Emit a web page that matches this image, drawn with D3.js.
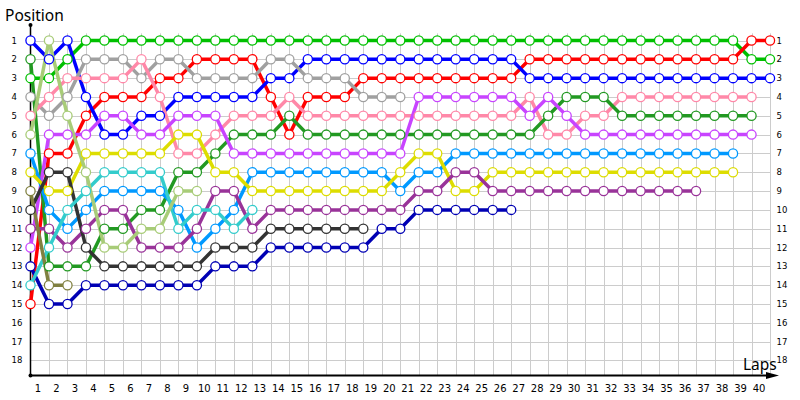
<!DOCTYPE html>
<html>
<head>
<meta charset="utf-8">
<script src="https://cdn.jsdelivr.net/npm/d3@7/dist/d3.min.js"></script>
<style>
body { margin: 0; background: #fff; }
</style>
</head>
<body>
<div id="chart-area"></div>
<script>
const WIDTH = 800
const HEIGHT = 400

// tick labels
const lapLabels = [1, 2, 3, 4, 5, 6, 7, 8, 9, 10, 11, 12, 13, 14, 15, 16, 17, 18, 19, 20,
	21, 22, 23, 24, 25, 26, 27, 28, 29, 30, 31, 32, 33, 34, 35, 36, 37, 38, 39, 40]
const positionLabels = [1, 2, 3, 4, 5, 6, 7, 8, 9, 10, 11, 12, 13, 14, 15, 16, 17, 18]

// position of each car per lap, index = lap (0 = grid)
const green = [3, 3, 2, 1, 1, 1, 1, 1, 1, 1, 1, 1, 1, 1, 1, 1, 1, 1, 1, 1,
	1, 1, 1, 1, 1, 1, 1, 1, 1, 1, 1, 1, 1, 1, 1, 1, 1, 1, 1, 2, 2]
const red = [15, 7, 7, 5, 4, 4, 4, 3, 3, 2, 2, 2, 2, 4, 6, 4, 4, 4, 3, 3,
	3, 3, 3, 3, 3, 3, 3, 2, 2, 2, 2, 2, 2, 2, 2, 2, 2, 2, 2, 1, 1]
const blue = [1, 2, 1, 4, 6, 6, 5, 5, 4, 4, 4, 4, 4, 3, 3, 2, 2, 2, 2, 2,
	2, 2, 2, 2, 2, 2, 2, 3, 3, 3, 3, 3, 3, 3, 3, 3, 3, 3, 3, 3, 3]
const gray = [4, 5, 4, 2, 2, 2, 3, 2, 2, 3, 3, 3, 3, 2, 2, 3, 3, 3, 4, 4, 4]
const pink = [5, 4, 3, 3, 3, 3, 2, 4, 7, 7, 6, 5, 5, 5, 4, 5, 5, 5, 5, 5,
	5, 5, 5, 5, 5, 5, 5, 4, 6, 6, 5, 5, 4, 4, 4, 4, 4, 4, 4, 4]
const darkGreen = [2, 13, 13, 13, 11, 11, 10, 10, 8, 8, 7, 6, 6, 6, 5, 6, 6, 6, 6, 6,
	6, 6, 6, 6, 6, 6, 6, 6, 5, 4, 4, 4, 5, 5, 5, 5, 5, 5, 5, 5]
const violet = [12, 6, 6, 6, 5, 5, 6, 6, 5, 5, 5, 7, 7, 7, 7, 7, 7, 7, 7, 7,
	7, 4, 4, 4, 4, 4, 4, 5, 4, 5, 6, 6, 6, 6, 6, 6, 6, 6, 6, 6]
const lightBlue = [7, 10, 11, 10, 9, 9, 9, 9, 10, 12, 11, 10, 8, 8, 8, 8, 8, 8, 8, 8,
	9, 8, 8, 7, 7, 7, 7, 7, 7, 7, 7, 7, 7, 7, 7, 7, 7, 7, 7]
const yellow = [8, 9, 9, 7, 7, 7, 7, 7, 6, 6, 8, 8, 9, 9, 9, 9, 9, 9, 9, 9,
	8, 7, 7, 9, 9, 8, 8, 8, 8, 8, 8, 8, 8, 8, 8, 8, 8, 8, 8]
const purple = [11, 11, 12, 11, 10, 10, 12, 12, 12, 11, 9, 9, 11, 10, 10, 10, 10, 10, 10, 10,
	10, 9, 9, 8, 8, 9, 9, 9, 9, 9, 9, 9, 9, 9, 9, 9, 9]
const darkGray = [10, 8, 8, 12, 13, 13, 13, 13, 13, 13, 12, 12, 12, 11, 11, 11, 11, 11, 11]
const navy = [13, 15, 15, 14, 14, 14, 14, 14, 14, 14, 13, 13, 13, 12, 12, 12, 12, 12, 12, 11,
	11, 10, 10, 10, 10, 10, 10]
const cyan = [14, 12, 10, 9, 8, 8, 8, 8, 11, 10, 10, 11, 10]
const lightOlive = [6, 1, 5, 8, 12, 12, 11, 11, 9, 9]
const olive = [9, 14, 14]

const drivers = [
	{ color: "#00c000", pos: green },
	{ color: "#ff0000", pos: red },
	{ color: "#0000ff", pos: blue },
	{ color: "#a0a0a0", pos: gray },
	{ color: "#ff88a8", pos: pink },
	{ color: "#229922", pos: darkGreen },
	{ color: "#c844ff", pos: violet },
	{ color: "#0099ff", pos: lightBlue },
	{ color: "#dddd00", pos: yellow },
	{ color: "#993399", pos: purple },
	{ color: "#333333", pos: darkGray },
	{ color: "#0000b4", pos: navy },
	{ color: "#33cccc", pos: cyan },
	{ color: "#a8cc78", pos: lightOlive },
	{ color: "#808040", pos: olive }
]

const svg = d3.select("#chart-area").append("svg")
	.attr("width", WIDTH)
	.attr("height", HEIGHT)

// scales
const x = d3.scaleLinear().domain([0, 40]).range([30.5, 770])
const y = d3.scaleLinear().domain([1, 15]).range([40.5, 304])
const AXIS_Y = 375.5

// grid
const grid = svg.append("g")
	.attr("stroke", "#cccccc")
	.attr("stroke-width", 1)
grid.selectAll(".v")
	.data(lapLabels)
	.join("line")
	.attr("x1", d => Math.round(x(d)) + 0.5)
	.attr("x2", d => Math.round(x(d)) + 0.5)
	.attr("y1", y(0.62))
	.attr("y2", AXIS_Y)
grid.selectAll(".h")
	.data(positionLabels)
	.join("line")
	.attr("x1", x(0))
	.attr("x2", Math.round(x(40)) + 0.5)
	.attr("y1", d => Math.round(y(d)) + 0.5)
	.attr("y2", d => Math.round(y(d)) + 0.5)

// axes
svg.append("line")
	.attr("x1", x(0)).attr("x2", x(0))
	.attr("y1", 25).attr("y2", AXIS_Y)
	.attr("stroke", "#000")
	.attr("stroke-width", 1.5)
svg.append("line")
	.attr("x1", x(0)).attr("x2", 770)
	.attr("y1", AXIS_Y).attr("y2", AXIS_Y)
	.attr("stroke", "#000")
	.attr("stroke-width", 2)
svg.append("path")
	.attr("d", `M766,${AXIS_Y - 3.5} L779,${AXIS_Y} L766,${AXIS_Y + 3.5} Z`)
	.attr("fill", "#000")
svg.append("circle").attr("cx", x(0)).attr("cy", 25).attr("r", 2).attr("fill", "#000")
svg.append("circle").attr("cx", x(0)).attr("cy", AXIS_Y).attr("r", 2).attr("fill", "#000")

// axis labels
svg.append("text")
	.attr("x", 5)
	.attr("y", 21)
	.attr("font-family", "Noto Sans, DejaVu Sans, sans-serif")
	.attr("font-size", "15.5px")
	.text("Position")
svg.append("text")
	.attr("x", 743)
	.attr("y", 370)
	.attr("font-family", "Noto Sans, DejaVu Sans, sans-serif")
	.attr("font-size", "15.5px")
	.text("Laps")

// tick labels
svg.append("g")
	.selectAll("text")
	.data(lapLabels)
	.join("text")
	.attr("x", d => x(d) - 11)
	.attr("y", 392)
	.attr("text-anchor", "middle")
	.attr("font-family", "DejaVu Sans, sans-serif")
	.attr("font-size", "10px")
	.text(d => d)
svg.append("g")
	.selectAll("text")
	.data(positionLabels)
	.join("text")
	.attr("x", 11.5)
	.attr("y", d => y(d) + 3)
	.attr("font-family", "DejaVu Sans, sans-serif")
	.attr("font-size", "8.5px")
	.text(d => d)
svg.append("g")
	.selectAll("text")
	.data(positionLabels)
	.join("text")
	.attr("x", 776.5)
	.attr("y", d => y(d) + 3)
	.attr("font-family", "DejaVu Sans, sans-serif")
	.attr("font-size", "8.5px")
	.text(d => d)

// lines
const line = d3.line()
	.x((d, i) => x(i))
	.y(d => y(d))

svg.append("g")
	.selectAll("path")
	.data(drivers)
	.join("path")
	.attr("d", d => line(d.pos))
	.attr("fill", "none")
	.attr("stroke", d => d.color)
	.attr("stroke-width", 3.5)
	.attr("stroke-linejoin", "round")

// markers
const markers = svg.append("g")
drivers.forEach(dr => {
	markers.append("g")
		.selectAll("circle")
		.data(dr.pos)
		.join("circle")
		.attr("cx", (d, i) => x(i))
		.attr("cy", d => y(d))
		.attr("r", 4.6)
		.attr("fill", "#fff")
		.attr("stroke", dr.color)
		.attr("stroke-width", 1.3)
})
</script>
</body>
</html>
